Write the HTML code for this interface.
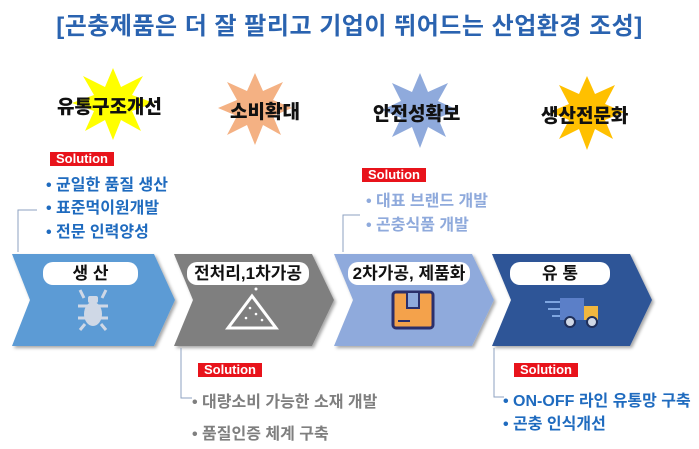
<!DOCTYPE html>
<html><head><meta charset="utf-8"><style>
body{margin:0;width:699px;height:449px;background:#fff;position:relative;overflow:hidden;font-family:"Liberation Sans","Noto Sans CJK KR",sans-serif;font-weight:bold}
.a{position:absolute;white-space:nowrap}
.sol{position:absolute;background:#e8131b;color:#fff;font-size:13px;line-height:14px;padding:0 6px;font-weight:bold}
.t{position:absolute;font-size:16px;white-space:nowrap}
.pill{position:absolute;background:#fff;border-radius:10px;height:23px;line-height:23px;text-align:center;font-size:17px;color:#111}
.st{position:absolute;font-size:19px;color:#111;white-space:nowrap;font-weight:900}
</style></head><body>
<div class="a" style="left:0;width:699px;text-align:center;top:6px;font-size:24px;letter-spacing:0.5px;color:#2a63b0">[곤충제품은 더 잘 팔리고 기업이 뛰어드는 산업환경 조성]</div>
<svg width="699" height="449" style="position:absolute;left:0;top:0">
<defs><filter id="s"><feDropShadow dx="2" dy="2" stdDeviation="1.5" flood-opacity="0.35"/></filter></defs>
<polygon fill="#ffff00" points="113,68 121,87 143,76 132,95 154,103 132,111 141,131 121,120 113,140 105,120 85,131 94,111 72,103 94,95 83,76 105,87"/>
<polygon fill="#f4b183" points="255,73 263,91 283,82 273,100 292,108 273,116 281,135 263,125 255,145 247,125 227,135 237,116 218,108 237,100 227,82 247,91"/>
<polygon fill="#8faadc" points="420,73 428,92 448,83 438,101 458,110 438,118 446,137 428,127 420,148 412,127 392,137 401,118 382,110 401,101 392,83 412,92"/>
<polygon fill="#ffc000" points="587,76 595,94 615,85 605,104 624,112 605,120 613,139 595,129 587,150 579,129 559,139 569,120 550,112 569,104 559,85 579,94"/>
<g filter="url(#s)">
<polygon fill="#5b9bd5" points="12,254 154,254 175,300 154,346 12,346 30,300"/>
<polygon fill="#7f7f7f" points="174,254 312,254 334,300 312,346 174,346 193,300"/>
<polygon fill="#8faadc" points="334,254 472,254 494,300 472,346 334,346 353,300"/>
<polygon fill="#2f5597" points="492,254 630,254 652,300 630,346 492,346 511,300"/>
</g>
<g stroke="#8ea2c0" stroke-width="1" fill="none">
<polyline points="18,252 18,210 37,210"/>
<polyline points="343,252 343,215 360,215"/>
<polyline points="181,348 181,398 192,398"/>
<polyline points="494,348 494,397 504,397"/>
</g>
<g fill="#cfd8e6"><ellipse cx="93" cy="314" rx="9" ry="12"/><rect x="88" y="296" width="10" height="7" rx="2"/>
<path d="M80,290 l4,8 M106,290 l-4,8 M78,306 h10 M98,306 h10 M78,318 h10 M98,318 h10 M80,330 l5,-6 M106,330 l-5,-6" stroke="#cfd8e6" stroke-width="3"/></g>
<g stroke="#fff" stroke-width="3" fill="none"><path d="M228,328 L252,296 L276,328 Z"/></g>
<g fill="#fff"><circle cx="253" cy="282" r="1.5"/><circle cx="256" cy="289" r="1.5"/><circle cx="250" cy="308" r="1.3"/><circle cx="256" cy="314" r="1.3"/><circle cx="246" cy="318" r="1.3"/><circle cx="262" cy="320" r="1.3"/></g>
<rect x="393" y="292" width="40" height="36" rx="3" fill="#f4a24b" stroke="#2b2f6b" stroke-width="3"/>
<rect x="407" y="292" width="12" height="16" fill="#8faadc" stroke="#2b2f6b" stroke-width="2"/>
<line x1="398" y1="321" x2="410" y2="321" stroke="#2b2f6b" stroke-width="2"/>
<g stroke="#7ea6e0" stroke-width="2"><line x1="545" y1="302" x2="565" y2="302"/><line x1="548" y1="309" x2="565" y2="309"/><line x1="552" y1="316" x2="565" y2="316"/></g>
<rect x="560" y="298" width="24" height="22" fill="#5b7fc8"/><rect x="584" y="306" width="14" height="14" fill="#f0b73f"/>
<circle cx="570" cy="322" r="5" fill="#cfd8e6" stroke="#1f2f5a" stroke-width="2"/><circle cx="592" cy="322" r="5" fill="#cfd8e6" stroke="#1f2f5a" stroke-width="2"/>
</svg>
<div class="st" style="left:57px;top:92px">유통구조개선</div>
<div class="st" style="left:230px;top:97px">소비확대</div>
<div class="st" style="left:373px;top:99px">안전성확보</div>
<div class="st" style="left:541px;top:101px">생산전문화</div>
<div class="pill" style="left:43px;top:262px;width:95px">생 산</div>
<div class="pill" style="left:187px;top:262px;width:122px">전처리,1차가공</div>
<div class="pill" style="left:348px;top:262px;width:122px">2차가공, 제품화</div>
<div class="pill" style="left:510px;top:262px;width:100px">유 통</div>
<div class="sol" style="left:50px;top:152px">Solution</div>
<div class="t" style="left:46px;top:171px;color:#1f6bbf">• 균일한 품질 생산</div>
<div class="t" style="left:46px;top:194px;color:#1f6bbf">• 표준먹이원개발</div>
<div class="t" style="left:46px;top:218px;color:#1f6bbf">• 전문 인력양성</div>
<div class="sol" style="left:362px;top:168px">Solution</div>
<div class="t" style="left:366px;top:187px;color:#8faadc">• 대표 브랜드 개발</div>
<div class="t" style="left:366px;top:211px;color:#8faadc">• 곤충식품 개발</div>
<div class="sol" style="left:198px;top:363px">Solution</div>
<div class="t" style="left:192px;top:388px;color:#7f7f7f">• 대량소비 가능한 소재 개발</div>
<div class="t" style="left:192px;top:420px;color:#7f7f7f">• 품질인증 체계 구축</div>
<div class="sol" style="left:514px;top:363px">Solution</div>
<div class="t" style="left:503px;top:387px;color:#1f6bbf">• ON-OFF 라인 유통망 구축</div>
<div class="t" style="left:503px;top:410px;color:#1f6bbf">• 곤충 인식개선</div>
</body></html>
